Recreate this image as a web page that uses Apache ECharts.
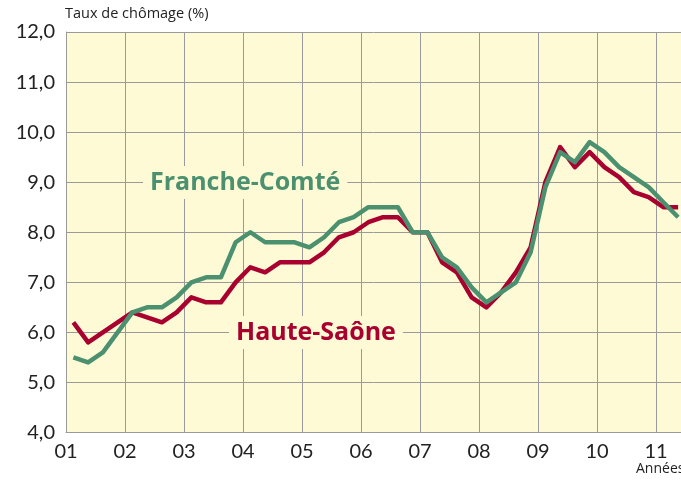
<!DOCTYPE html>
<html>
<head>
<meta charset="utf-8">
<script src="https://cdn.jsdelivr.net/npm/echarts@6/dist/echarts.min.js"></script>
<style>
html,body{margin:0;padding:0;background:#fff;}
#c{width:681px;height:482px;}
</style>
</head>
<body>
<div id="c"></div>
<script>
// Quarters (year, quarter) from 2001 T1 to 2011 T2
const years = [2001,2002,2003,2004,2005,2006,2007,2008,2009,2010,2011];
const quarters = [];
years.forEach(y => { for (let q = 1; q <= 4; q++) { if (y === 2011 && q > 2) break; quarters.push([y, q]); } });

// Unemployment rate (%)
const hauteSaone = [6.2,5.8,6.0,6.2, 6.4,6.3,6.2,6.4, 6.7,6.6,6.6,7.0, 7.3,7.2,7.4,7.4, 7.4,7.6,7.9,8.0,
  8.2,8.3,8.3,8.0, 8.0,7.4,7.2,6.7, 6.5,6.8,7.2,7.7, 9.0,9.7,9.3,9.6, 9.3,9.1,8.8,8.7, 8.5,8.5];
const francheComte = [5.5,5.4,5.6,6.0, 6.4,6.5,6.5,6.7, 7.0,7.1,7.1,7.8, 8.0,7.8,7.8,7.8, 7.7,7.9,8.2,8.3,
  8.5,8.5,8.5,8.0, 8.0,7.5,7.3,6.9, 6.6,6.8,7.0,7.6, 8.9,9.6,9.4,9.8, 9.6,9.3,9.1,8.9, 8.6,8.3];

const yTicks = [4,5,6,7,8,9,10,11,12];
const xLabelYears = ['01','02','03','04','05','06','07','08','09','10','11'];

const toX = (yq) => yq[0] + (yq[1] - 0.5) / 4;
const hsData = quarters.map((yq, i) => [toX(yq), hauteSaone[i]]);
const fcData = quarters.map((yq, i) => [toX(yq), francheComte[i]]);

const FONT = 'Lato';
const FONT2 = 'Open Sans';
const GRID_LEFT = 66, GRID_TOP = 32, GRID_BOTTOM = 49.5;
const PX_PER_YEAR = 59;
const xMax = 2001 + (681 - GRID_LEFT) / PX_PER_YEAR;

const chart = echarts.init(document.getElementById('c'), null, {renderer: 'canvas'});
chart.setOption({
  animation: false,
  backgroundColor: '#ffffff',
  grid: {left: GRID_LEFT, right: 0, top: GRID_TOP, bottom: GRID_BOTTOM, show: true,
         backgroundColor: '#FFFAD6', borderWidth: 0},
  xAxis: {
    type: 'value', min: 2001, max: xMax, interval: 1,
    axisLine: {show: true, lineStyle: {color: '#9a9a9a', width: 1}},
    axisTick: {show: false},
    splitLine: {show: true, lineStyle: {color: '#9a9a9a', width: 1}},
    axisLabel: {
      showMaxLabel: false, margin: 9,
      fontFamily: FONT, fontSize: 20, color: '#222',
      formatter: v => { const idx = Math.round(v) - 2001; return xLabelYears[idx] !== undefined ? xLabelYears[idx] : ''; }
    }
  },
  yAxis: {
    type: 'value', min: yTicks[0], max: yTicks[yTicks.length - 1], interval: 1,
    axisLine: {show: true, lineStyle: {color: '#9a9a9a', width: 1}},
    axisTick: {show: false},
    splitLine: {show: true, lineStyle: {color: '#9a9a9a', width: 1}},
    axisLabel: {
      margin: 11, fontFamily: FONT, fontSize: 20, color: '#222',
      formatter: v => v.toFixed(1).replace('.', ',')
    }
  },
  series: [
    {name: 'Haute-Saône', type: 'line', data: hsData, showSymbol: false, z: 2,
     lineStyle: {color: '#A8002F', width: 4.5, join: 'round'}},
    {name: 'Franche-Comté', type: 'line', data: fcData, showSymbol: false, z: 3,
     lineStyle: {color: '#4B9170', width: 4.5, join: 'round'}}
  ],
  graphic: [
    {type: 'text', left: 65, top: 6, z: 10,
     style: {text: 'Taux de chômage (%)', fontFamily: FONT2, fontSize: 14.5, fill: '#222'}},
    {type: 'text', left: 636, top: 462, z: 10,
     style: {text: 'Années', fontFamily: FONT2, fontSize: 14, fill: '#222'}},
    {type: 'text', left: 143, top: 166, z: 10,
     style: {text: 'Franche-Comté', fontFamily: FONT2, fontWeight: 'bold', fontSize: 25, fill: '#4B9170',
             backgroundColor: '#FFFAD6', padding: [4, 7, 4, 7]}},
    {type: 'text', left: 229, top: 316, z: 10,
     style: {text: 'Haute-Saône', fontFamily: FONT2, fontWeight: 'bold', fontSize: 25, fill: '#A8002F',
             backgroundColor: '#FFFAD6', padding: [4, 7, 4, 7]}}
  ]
});
</script>
</body>
</html>
